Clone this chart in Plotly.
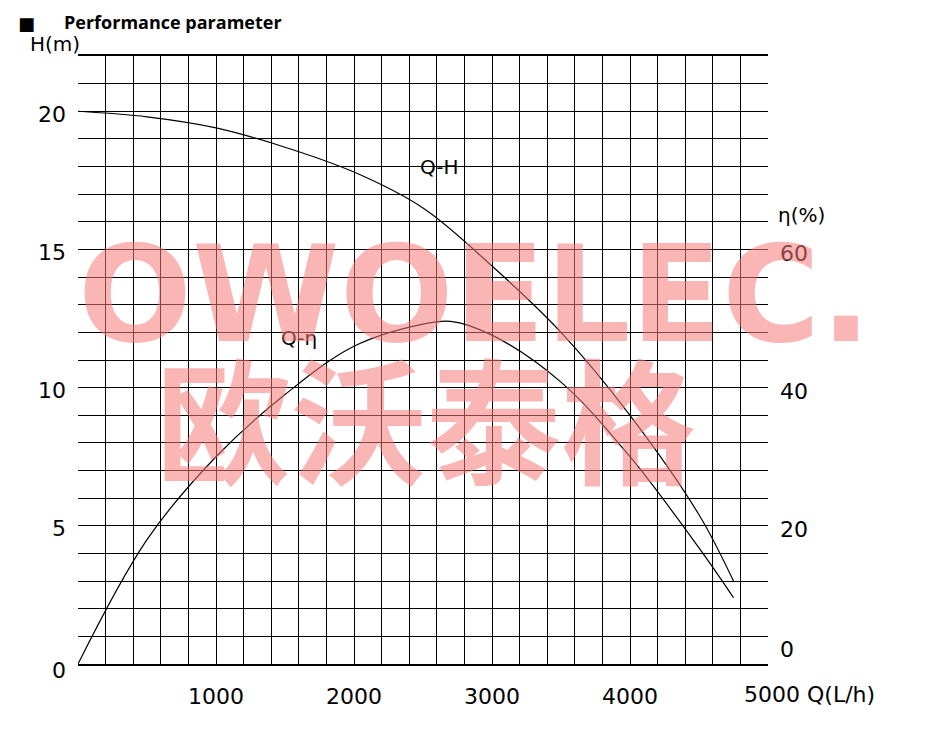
import plotly.graph_objects as go

q = [0, 500, 1000, 1500, 2000, 2500, 3000, 3500, 4000, 4500, 4750]
head = [20.0, 19.8, 19.4, 18.7, 17.8, 16.5, 14.4, 12.0, 9.0, 5.4, 3.0]
q_eta = [0, 500, 1000, 1500, 2000, 2500, 2700, 3000, 3500, 4000, 4500, 4750]
eta = [0, 18, 30, 39, 46, 49.2, 49.6, 47.6, 40.8, 30, 16.8, 9.6]
x_labels = [1000, 2000, 3000, 4000]
h_labels = [0, 5, 10, 15, 20]
eta_labels = [0, 20, 40, 60]

F = "DejaVu Sans"
fig = go.Figure()
fig.add_trace(go.Scatter(x=q, y=head, mode="lines", line=dict(color="black", width=1.2, shape="spline"), hoverinfo="skip"))
fig.add_trace(go.Scatter(x=q_eta, y=eta, yaxis="y2", mode="lines", line=dict(color="black", width=1.2, shape="spline"), hoverinfo="skip"))

xt = list(range(0, 5001, 200))
yt = list(range(0, 23))
fig.update_layout(
    width=935, height=736, showlegend=False, plot_bgcolor="white", paper_bgcolor="white",
    margin=dict(l=70, r=175, t=48, b=80),
    xaxis=dict(range=[0, 5000], tickvals=xt, ticktext=[""]*len(xt), showgrid=True, gridcolor="black", gridwidth=1,
               showline=True, linecolor="black", linewidth=1.5, mirror=True, zeroline=False, ticks=""),
    yaxis=dict(range=[0, 22], tickvals=yt, ticktext=[""]*len(yt), showgrid=True, gridcolor="black", gridwidth=1,
               zeroline=False, ticks=""),
    yaxis2=dict(range=[0, 88], overlaying="y", side="right", showgrid=False, showticklabels=False, zeroline=False),
)
ann = []
for v in x_labels:
    ann.append(dict(x=v, y=0, xref="x", yref="y", text=str(v), showarrow=False, yshift=-32, font=dict(family=F, size=22, color="black")))
ann.append(dict(x=5000, y=0, xref="x", yref="y", text="5000 Q(L/h)", showarrow=False, xanchor="left", xshift=-26, yshift=-30, font=dict(family=F, size=22, color="black")))
for v in h_labels:
    ann.append(dict(x=0, y=v, xref="x", yref="y", text=str(v), showarrow=False, xanchor="right", xshift=-10, yshift=-3 if v else -6, font=dict(family=F, size=22, color="black")))
for v in eta_labels:
    ann.append(dict(x=5000, y=v, xref="x", yref="y2", text=str(v), showarrow=False, xanchor="left", xshift=10, yshift=(15 if v == 0 else -4), font=dict(family=F, size=22, color="black")))
ann += [
    dict(x=0, y=22, xref="x", yref="y", text="H(m)", showarrow=False, xanchor="right", yanchor="bottom", xshift=4, yshift=-2, font=dict(family=F, size=20, color="black")),
    dict(x=5000, y=65, xref="x", yref="y2", text="η(%)", showarrow=False, xanchor="left", xshift=8, font=dict(family=F, size=20, color="black")),
    dict(x=2620, y=18.0, xref="x", yref="y", text="Q-H", showarrow=False, font=dict(family=F, size=20, color="black")),
    dict(x=1600, y=11.8, xref="x", yref="y", text="Q-η", showarrow=False, font=dict(family=F, size=20, color="black")),
    dict(x=0.0, y=1.0, xref="paper", yref="paper", text="■", showarrow=False, xanchor="left", yanchor="bottom", xshift=-62, yshift=20, font=dict(family=F, size=18, color="black")),
    dict(x=0.0, y=1.0, xref="paper", yref="paper", text="<b>Performance parameter</b>", showarrow=False, xanchor="left", yanchor="bottom", xshift=-16, yshift=20, font=dict(family="Open Sans", size=18, color="black")),
    dict(x=0.575, y=0.607, xref="paper", yref="paper", text="<b>OWOELEC.</b>", showarrow=False, font=dict(family="DejaVu Sans", size=134, color="rgba(245,120,120,0.55)")),
    dict(x=0.505, y=0.41, xref="paper", yref="paper", text="<b>欧沃泰格</b>", showarrow=False, font=dict(family="Noto Sans CJK SC", size=135, color="rgba(245,120,120,0.55)")),
]
fig.update_layout(annotations=ann)
fig.write_html("out.html")
